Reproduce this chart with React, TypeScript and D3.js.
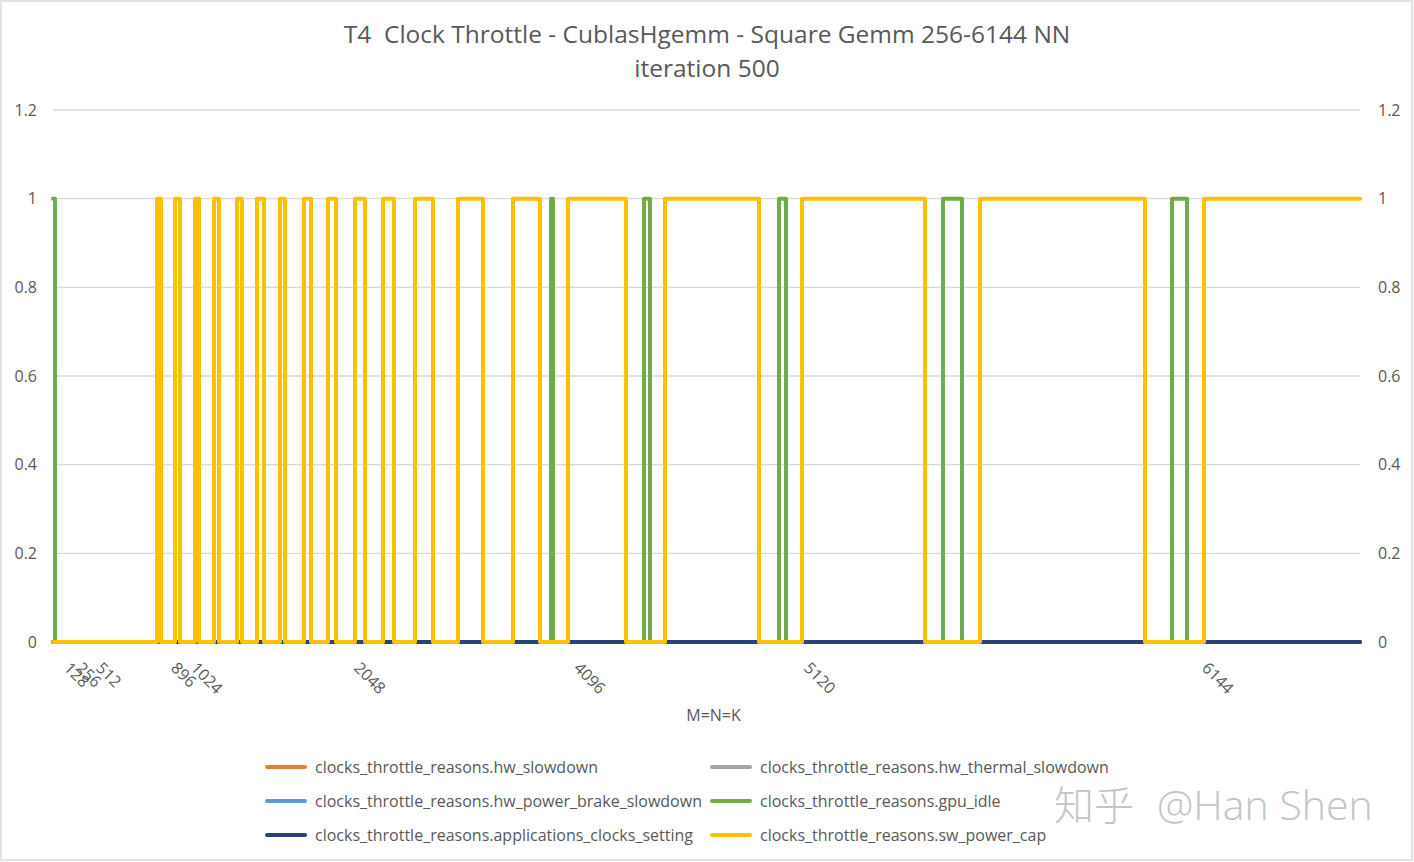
import * as d3 from "d3";

// sample index along the run (one sample per step of the category axis)
const TOTAL_SAMPLES = 1307;

// [sample index, value] change points, value holds until the next point
const swPowerCap: [number, number][] = [
  [0, 0],
  [104, 1], [108, 0],
  [122, 1], [127, 0],
  [142, 1], [146, 0],
  [161, 1], [166, 0],
  [184, 1], [189, 0],
  [204, 1], [211, 0],
  [227, 1], [232, 0],
  [251, 1], [258, 0],
  [275, 1], [283, 0],
  [302, 1], [312, 0],
  [330, 1], [341, 0],
  [362, 1], [380, 0],
  [405, 1], [430, 0],
  [460, 1], [487, 0],
  [515, 1], [573, 0],
  [612, 1], [706, 0],
  [749, 1], [872, 0],
  [927, 1], [1092, 0],
  [1151, 1], [1307, 1],
];

const gpuIdle: [number, number][] = [
  [0, 1], [2, 0],
  [498, 1], [500, 0],
  [591, 1], [597, 0],
  [726, 1], [733, 0],
  [890, 1], [909, 0],
  [1119, 1], [1134, 0],
  [1307, 0],
];

const allZero: [number, number][] = [
  [0, 0],
  [1307, 0],
];

// size labels on the category axis: [label, sample index]
const sizeTicks: [string, number][] = [
  ["128", 18],
  ["256", 30],
  ["512", 50],
  ["896", 125],
  ["1024", 145],
  ["2048", 308],
  ["4096", 528],
  ["5120", 758],
  ["6144", 1156],
];

const yTicks = [0, 0.2, 0.4, 0.6, 0.8, 1, 1.2];

const seriesNames = [
  "clocks_throttle_reasons.hw_slowdown",
  "clocks_throttle_reasons.hw_thermal_slowdown",
  "clocks_throttle_reasons.hw_power_brake_slowdown",
  "clocks_throttle_reasons.gpu_idle",
  "clocks_throttle_reasons.applications_clocks_setting",
  "clocks_throttle_reasons.sw_power_cap",
];
const seriesColors = ["#ED7D31", "#A5A5A5", "#5B9BD5", "#70AD47", "#264478", "#FFC000"];
const seriesData = [allZero, allZero, allZero, gpuIdle, allZero, swPowerCap];

const W = 1414;
const H = 862;
const margin = { top: 110, right: 54, bottom: 220, left: 53 };
const FONT = "'Open Sans', 'Noto Sans', sans-serif";
const TEXT = "#595959";

export default function App() {
  const innerW = W - margin.left - margin.right;
  const innerH = H - margin.top - margin.bottom;

  const x = d3.scaleLinear().domain([0, TOTAL_SAMPLES]).range([0, innerW]);
  const y = d3.scaleLinear().domain([0, 1.2]).range([innerH, 0]);

  const line = d3
    .line<[number, number]>()
    .x((d) => x(d[0]))
    .y((d) => y(d[1]))
    .curve(d3.curveStepAfter);

  return (
    <svg
      width={W}
      height={H}
      style={{ position: "absolute", left: 0, top: 0, background: "#fff" }}
      fontFamily={FONT}
    >
      <rect x={1} y={1} width={W - 3} height={H - 3} fill="#fff" stroke="#d9d9d9" strokeWidth={1.5} />

      <text x={707} y={43} textAnchor="middle" fontSize={24.5} fill={TEXT}>
        T4{"\u00a0\u00a0"}Clock Throttle - CublasHgemm - Square Gemm 256-6144 NN
      </text>
      <text x={707} y={77} textAnchor="middle" fontSize={24.5} fill={TEXT}>
        iteration 500
      </text>

      <g transform={`translate(${margin.left},${margin.top})`}>
        {yTicks.map((t) => (
          <g key={t}>
            {t > 0 && (
              <line x1={0} x2={innerW} y1={y(t)} y2={y(t)} stroke="#d9d9d9" strokeWidth={1.3} />
            )}
            <text x={-16} y={y(t)} dy="0.35em" textAnchor="end" fontSize={16} fill={TEXT}>
              {t}
            </text>
            <text x={innerW + 18} y={y(t)} dy="0.35em" textAnchor="start" fontSize={16} fill={TEXT}>
              {t}
            </text>
          </g>
        ))}

        {seriesData.map((d, i) => (
          <path
            key={seriesNames[i]}
            d={line(d) || ""}
            fill="none"
            stroke={seriesColors[i]}
            strokeWidth={4}
            strokeLinejoin="round"
            strokeLinecap="round"
          />
        ))}

        {sizeTicks.map(([label, idx]) => (
          <text
            key={label}
            transform={`translate(${x(idx)},${innerH + 19}) rotate(45)`}
            dy="0.71em"
            fontSize={16}
            fill={TEXT}
          >
            {label}
          </text>
        ))}

        <text x={innerW / 2 + 7} y={innerH + 79} textAnchor="middle" fontSize={16} fill={TEXT}>
          M=N=K
        </text>
      </g>

      {seriesNames.map((name, i) => {
        const col = i % 2;
        const row = Math.floor(i / 2);
        const lx = col === 0 ? 267 : 712;
        const ly = 767 + row * 34;
        return (
          <g key={name}>
            <line x1={lx} x2={lx + 38} y1={ly} y2={ly} stroke={seriesColors[i]} strokeWidth={4} strokeLinecap="round" />
            <text x={lx + 48} y={ly} dy="0.35em" fontSize={16} fill={TEXT}>
              {name}
            </text>
          </g>
        );
      })}

      <g fontSize={40} fill="#c4c4c4">
        <text x={1056} y={818} fill="#fff" fontFamily="'Noto Sans CJK SC', sans-serif">
          知乎
        </text>
        <text x={1054} y={820} fontFamily="'Noto Sans CJK SC', sans-serif" fontWeight={300}>
          知乎
        </text>
        <text x={1157} y={820} fontWeight={300} fontSize={41}>
          @Han Shen
        </text>
      </g>
    </svg>
  );
}
